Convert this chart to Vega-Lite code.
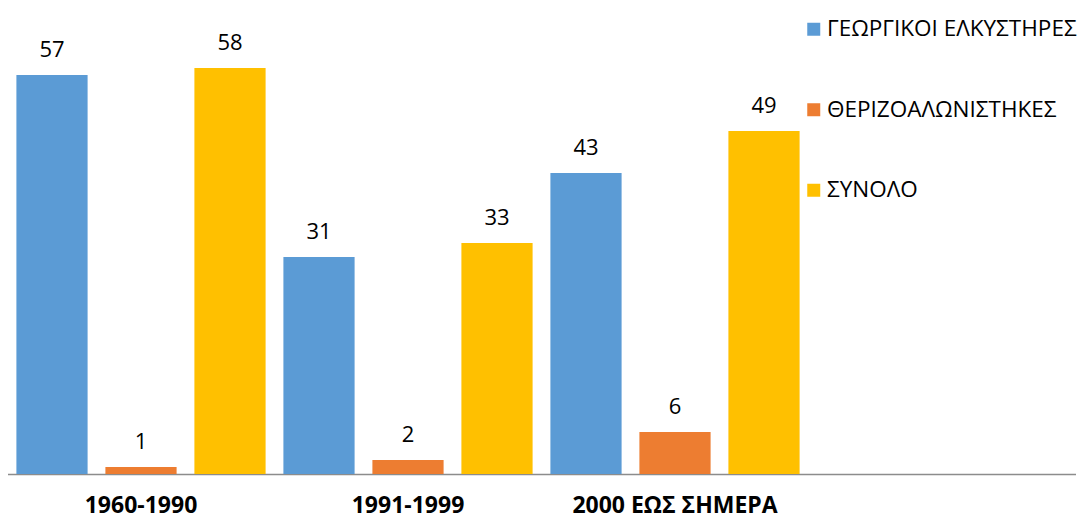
{
  "$schema": "https://vega.github.io/schema/vega-lite/v6.json",
  "autosize": "none",
  "width": 1068,
  "height": 420,
  "padding": {"left": 7.5, "top": 54, "right": 6.5, "bottom": 49},
  "background": "white",
  "data": {
    "values": [
      {"period": "1960-1990", "series": "ΓΕΩΡΓΙΚΟΙ ΕΛΚΥΣΤΗΡΕΣ", "value": 57},
      {"period": "1960-1990", "series": "ΘΕΡΙΖΟΑΛΩΝΙΣΤΗΚΕΣ", "value": 1},
      {"period": "1960-1990", "series": "ΣΥΝΟΛΟ", "value": 58},
      {"period": "1991-1999", "series": "ΓΕΩΡΓΙΚΟΙ ΕΛΚΥΣΤΗΡΕΣ", "value": 31},
      {"period": "1991-1999", "series": "ΘΕΡΙΖΟΑΛΩΝΙΣΤΗΚΕΣ", "value": 2},
      {"period": "1991-1999", "series": "ΣΥΝΟΛΟ", "value": 33},
      {"period": "2000 ΕΩΣ ΣΗΜΕΡΑ", "series": "ΓΕΩΡΓΙΚΟΙ ΕΛΚΥΣΤΗΡΕΣ", "value": 43},
      {"period": "2000 ΕΩΣ ΣΗΜΕΡΑ", "series": "ΘΕΡΙΖΟΑΛΩΝΙΣΤΗΚΕΣ", "value": 6},
      {"period": "2000 ΕΩΣ ΣΗΜΕΡΑ", "series": "ΣΥΝΟΛΟ", "value": 49}
    ]
  },
  "encoding": {
    "x": {
      "field": "period",
      "type": "nominal",
      "scale": {"domain": ["1960-1990", "1991-1999", "2000 ΕΩΣ ΣΗΜΕΡΑ", "_"], "paddingInner": 0, "paddingOuter": 0},
      "axis": {
        "title": null,
        "labelAngle": 0,
        "labelExpr": "datum.value == '_' ? '' : datum.value",
        "labelFont": "Open Sans",
        "labelFontWeight": "bold",
        "labelFontSize": 23,
        "labelColor": "#000000",
        "labelPadding": 20,
        "labelLimit": 400,
        "ticks": false,
        "domainColor": "#8c8c8c",
        "domainWidth": 1.5,
        "grid": false
      }
    },
    "xOffset": {
      "field": "series",
      "type": "nominal",
      "scale": {"domain": ["ΓΕΩΡΓΙΚΟΙ ΕΛΚΥΣΤΗΡΕΣ", "ΘΕΡΙΖΟΑΛΩΝΙΣΤΗΚΕΣ", "ΣΥΝΟΛΟ"], "paddingInner": 0.2, "paddingOuter": 0.1}
    },
    "y": {
      "field": "value",
      "type": "quantitative",
      "scale": {"domain": [0, 60], "nice": false},
      "axis": null
    }
  },
  "layer": [
    {
      "mark": {"type": "bar"},
      "encoding": {
        "color": {
          "field": "series",
          "type": "nominal",
          "scale": {"domain": ["ΓΕΩΡΓΙΚΟΙ ΕΛΚΥΣΤΗΡΕΣ", "ΘΕΡΙΖΟΑΛΩΝΙΣΤΗΚΕΣ", "ΣΥΝΟΛΟ"], "range": ["#5B9BD5", "#ED7D31", "#FFC000"]},
          "legend": {
            "title": null,
            "orient": "none",
            "legendX": 795,
            "legendY": -36,
            "symbolType": "square",
            "symbolSize": 169,
            "symbolStrokeWidth": 0,
            "labelFont": "Open Sans",
            "labelFontSize": 22.5,
            "labelColor": "#000000",
            "labelOffset": 2,
            "rowPadding": 57.5,
            "labelLimit": 400
          }
        }
      }
    },
    {
      "mark": {"type": "text", "baseline": "alphabetic", "dy": -18, "font": "Open Sans", "fontSize": 22, "color": "#000000", "clip": false},
      "encoding": {
        "text": {"field": "value", "type": "quantitative"}
      }
    }
  ],
  "config": {"view": {"stroke": null}}
}
